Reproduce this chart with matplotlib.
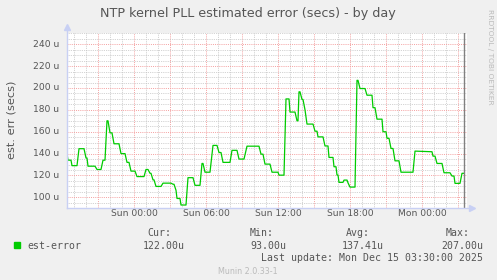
"""
Munin 风格: NTP kernel PLL estimated error (by day)
"""
import matplotlib
matplotlib.use('Agg')
import matplotlib.pyplot as plt
from matplotlib.ticker import MultipleLocator

# ===== DATA =====
# 时间: 相对 Sun 00:00 的分钟数; 值: 单位 u (微秒)
t_min = [-335, -330, -315, -310, -285, -275, -250, -240, -235, -230, -195, -185,
         -165, -155, -145, -135, -130, -120, -110, -100, -75, -65, -45, -35,
         -25, -15, 5, 15, 50, 60, 70, 80, 85, 95, 100, 110, 135, 145, 185,
         195, 200, 210, 215, 230, 235, 260, 270, 295, 305, 330, 340, 345,
         355, 380, 395, 415, 425, 435, 445, 480, 490, 515, 525, 550, 565,
         625, 635, 645, 655, 680, 690, 720, 725, 750, 760, 775, 780, 805,
         815, 820, 825, 830, 840, 845, 855, 865, 895, 905, 915, 920, 945,
         955, 970, 975, 995, 1000, 1010, 1015, 1020, 1025, 1045, 1050, 1065,
         1070, 1080, 1105, 1115, 1120, 1130, 1155, 1165, 1190, 1195, 1205,
         1215, 1240, 1245, 1260, 1265, 1275, 1285, 1295, 1305, 1325, 1335,
         1395, 1405, 1490, 1495, 1505, 1515, 1540, 1550, 1580, 1590, 1600,
         1605, 1630, 1640, 1650]
est_error = [140, 134, 134, 129, 129, 144.5, 144.5, 136, 136, 128.5, 128.5, 125.5,
             125.5, 134, 134, 170, 170, 159, 159, 149, 149, 140, 140, 132,
             132, 124, 124, 119, 119, 125.5, 125.5, 122, 122, 116, 116, 110, 110, 113, 113,
             112, 112, 106.5, 99, 99, 93, 93, 118, 118, 111, 111, 131, 131,
             123, 123, 147.5, 147.5, 141, 141, 132, 132, 143, 143, 135, 135, 146.8,
             146.8, 139.5, 139.5, 130.4, 130.4, 123, 123, 120.3, 120.3, 190, 190, 178, 178,
             170, 170, 196.5, 196.5, 189.5, 189.5, 180, 167, 167, 160.5, 160.5, 155.3, 155.3,
             147, 147, 136.5, 136.5, 128, 128, 120.4, 120.4, 113.7, 113.7, 115.8, 115.8,
             113.3, 109.4, 109.4, 207, 207, 199.5, 199.5, 193.4, 193.4, 182, 182,
             171.5, 171.5, 160, 160, 154, 154, 144.7, 144.7, 133.4, 133.4, 123,
             123, 142.3, 141.7, 137.7, 137.7, 131, 131, 122.5, 122.5, 119.5, 119.5,
             112.8, 112.8, 122, 122]

x_tick_pos = [0, 360, 720, 1080, 1440]
x_tick_labels = ['Sun 00:00', 'Sun 06:00', 'Sun 12:00', 'Sun 18:00', 'Mon 00:00']
y_tick_pos = [100, 120, 140, 160, 180, 200, 220, 240]
y_tick_labels = ['100 u', '120 u', '140 u', '160 u', '180 u', '200 u', '220 u', '240 u']
last_update_min = 1650

legend_name = 'est-error'
stat_names = ['Cur:', 'Min:', 'Avg:', 'Max:']
stat_values = ['122.00u', '93.00u', '137.41u', '207.00u']
last_update = 'Last update: Mon Dec 15 03:30:00 2025'

# ===== STYLE =====
W, H = 497, 280
BG = '#F0F0F0'
TXT = '#555555'
LINE = '#00CC00'
AXIS = '#C8D0F4'
MONO = 'DejaVu Sans Mono'


def fx(px):
    return px / W


def fy(py):
    return 1 - py / H


fig = plt.figure(figsize=(W / 100, H / 100), dpi=100, facecolor=BG)
# 绘图区: 400 x 175 px
ax = fig.add_axes([fx(66.7), fy(208.3), 400 / W, 175 / H])
ax.set_facecolor('white')

ax.set_xlim(-336.5, 1663.5)
ax.set_ylim(90, 250)

# 网格
ax.xaxis.set_major_locator(MultipleLocator(180))
ax.xaxis.set_minor_locator(MultipleLocator(60))
ax.yaxis.set_major_locator(MultipleLocator(20))
ax.yaxis.set_minor_locator(MultipleLocator(5))
ax.grid(True, which='minor', color='#C4C4C4', ls=(0, (1, 1.2)), lw=0.6)
ax.grid(True, which='major', color='#F4A0A0', ls=(0, (1, 1.2)), lw=0.7)
ax.set_axisbelow(True)
ax.tick_params(which='both', length=0, labelbottom=False, labelleft=False)

for s in ax.spines.values():
    s.set_visible(False)

# 数据线
ax.plot(t_min, est_error, color=LINE, lw=0.9, zorder=3)
ax.axvline(last_update_min, color='#808080', lw=1.0, zorder=4)

# 坐标轴 + 箭头
ax.plot([0, 0], [0, 1.03], color=AXIS, lw=1.0, transform=ax.transAxes, clip_on=False, zorder=5)
ax.plot([0, 1.01], [0, 0], color=AXIS, lw=1.0, transform=ax.transAxes, clip_on=False, zorder=5)
ax.plot([0], [1.035], marker='^', ms=4, color=AXIS, transform=ax.transAxes, clip_on=False, zorder=5)
ax.plot([1.013], [0], marker='>', ms=4, color=AXIS, transform=ax.transAxes, clip_on=False, zorder=5)

# 刻度标签
for p, lab in zip(x_tick_pos, x_tick_labels):
    ax.text(p, 85.0, lab, ha='center', va='center', fontsize=6.6, color=TXT)
for p, lab in zip(y_tick_pos, y_tick_labels):
    ax.text(-373, p, lab, ha='right', va='center', fontsize=6.6, color=TXT)

# 标题与轴标签
fig.text(fx(248), fy(14), 'NTP kernel PLL estimated error (secs) - by day',
         ha='center', va='center', fontsize=9.2, color=TXT)
fig.text(fx(11.5), fy(119.5), 'est. err (secs)', rotation=90,
         ha='center', va='center', fontsize=8.2, color=TXT)
fig.text(fx(490), fy(57), 'RRDTOOL / TOBI OETIKER', rotation=270,
         ha='center', va='center', fontsize=5.4, color='#BBBBBB')

# 图例
fig.patches.append(plt.Rectangle((fx(14), fy(248)), 6 / W, 6 / H,
                                 transform=fig.transFigure, color=LINE))
fig.text(fx(27), fy(246), legend_name, ha='left', va='center',
         fontsize=7.1, family=MONO, color=TXT)

name_x = [171, 250, 370, 470]
name_ha = ['right', 'left', 'right', 'right']
val_x = [185, 250, 384, 483]
val_ha = ['right', 'left', 'right', 'right']
for nm, vl, nx, nha, vx, vha in zip(stat_names, stat_values, name_x, name_ha, val_x, val_ha):
    fig.text(fx(nx), fy(233.5), nm, ha=nha, va='center', fontsize=7.1, family=MONO, color=TXT)
    fig.text(fx(vx), fy(246), vl, ha=vha, va='center', fontsize=7.1, family=MONO, color=TXT)

fig.text(fx(483), fy(257.7), last_update, ha='right', va='center',
         fontsize=7.1, family=MONO, color=TXT)
fig.text(fx(248), fy(271), 'Munin 2.0.33-1', ha='center', va='center',
         fontsize=5.8, color='#BBBBBB')

fig.savefig('out.png', dpi=100, facecolor=BG)
